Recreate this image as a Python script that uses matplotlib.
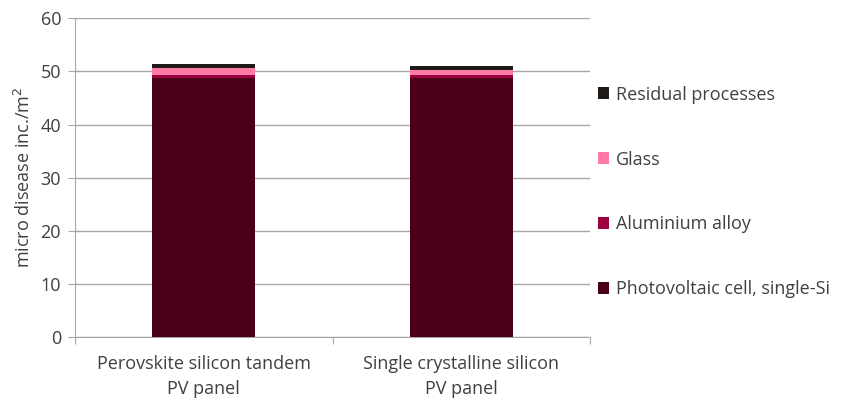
import numpy as np
import matplotlib.pyplot as plt
from matplotlib.patches import Patch

categories = ['Perovskite silicon tandem\nPV panel', 'Single crystalline silicon\nPV panel']
series_names = ['Photovoltaic cell, single-Si', 'Aluminium alloy', 'Glass', 'Residual processes']
pv_cell = [48.8, 48.8]
aluminium = [0.5, 0.5]
glass = [1.4, 1.0]
residual = [0.75, 0.75]
colors = ['#4b0019', '#9c0041', '#ff7aa5', '#1e1a18']

plt.rcParams['font.family'] = ['Open Sans', 'DejaVu Sans']
text_color = '#404040'
fs = 13

fig = plt.figure(figsize=(8.46, 4.01), dpi=100)
ax = fig.add_axes([75 / 846, 1 - 337 / 401, 515 / 846, (337 - 18.3) / 401])

x = np.arange(len(categories))
bottom = np.zeros(len(categories))
for vals, c in zip([pv_cell, aluminium, glass, residual], colors):
    ax.bar(x, vals, width=0.4, bottom=bottom, color=c, zorder=3)
    bottom += np.array(vals)

ax.set_xlim(-0.5, 1.5)
ax.set_ylim(0, 60)
ax.set_yticks(np.arange(0, 61, 10))
ax.yaxis.grid(True, color='#a6a6a6', linewidth=1.0, zorder=0)
ax.set_axisbelow(True)

ax.set_xticks([-0.5, 0.5, 1.5])
ax.set_xticklabels([])
ax.set_xticks(x, minor=True)
ax.set_xticklabels(categories, minor=True, fontsize=fs, color=text_color, linespacing=1.5)
ax.tick_params(axis='x', which='minor', length=0, pad=13)
ax.tick_params(axis='x', which='major', length=5, color='#a6a6a6')
ax.tick_params(axis='y', length=5, color='#a6a6a6', labelsize=fs, labelcolor=text_color, pad=5)

for s in ['top', 'right']:
    ax.spines[s].set_visible(False)
for s in ['left', 'bottom']:
    ax.spines[s].set_color('#a6a6a6')

ax.set_ylabel('micro disease inc./m$^2$', fontsize=fs, color=text_color, labelpad=5)

handles = [Patch(facecolor=c, label=n) for n, c in zip(series_names, colors)][::-1]
fig.legend(handles=handles, loc='center left', bbox_to_anchor=(582 / 846, 1 - 192 / 401),
           frameon=False, fontsize=fs, labelspacing=2.6, handlelength=0.6,
           handleheight=0.6, handletextpad=0.4, labelcolor=text_color)

fig.savefig('out.png', dpi=100)
